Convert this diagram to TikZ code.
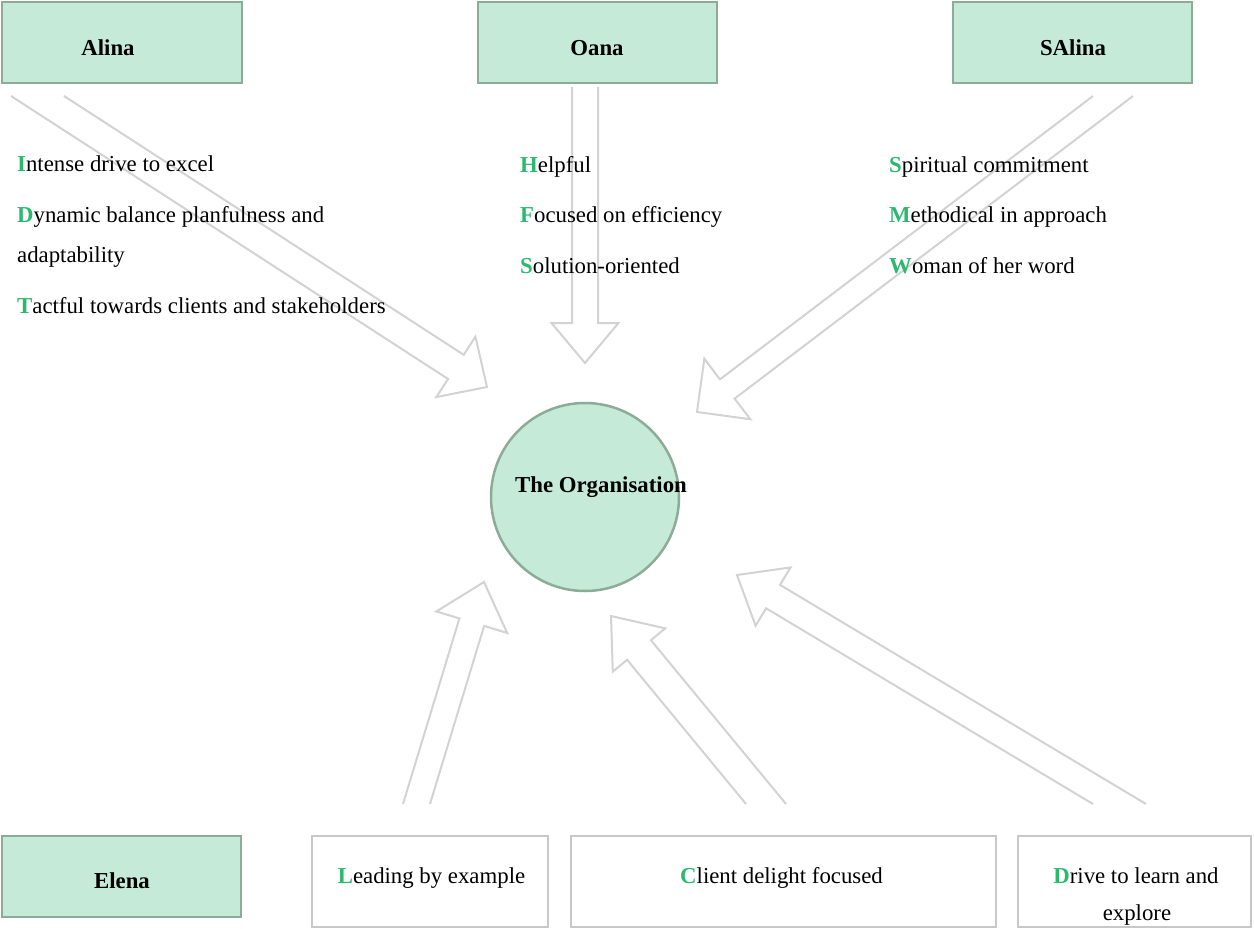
\documentclass[tikz,border=0pt]{standalone}
\usepackage{fontspec}
\setmainfont{Liberation Serif}
\usetikzlibrary{calc}
\definecolor{boxfill}{RGB}{197,234,215}
\definecolor{boxline}{RGB}{140,172,152}
\definecolor{arrgray}{RGB}{211,211,211}
\definecolor{wline}{RGB}{200,200,200}
\definecolor{lgreen}{RGB}{43,185,110}
\newcommand\gl[1]{\textbf{\color{lgreen}#1}}
% open block arrow: #1 tail point 1, #2 tail point 2, #3 tip, #4 head length, #5 head half width, #6 prefix
\newcommand\blkarrow[6]{%
  \coordinate (#6c) at ($(#1)!0.5!(#2)$);
  \coordinate (#6b) at ($(#3)!#4!(#6c)$);
  \coordinate (#6d1) at ($(#1)+(#3)-(#6c)$);
  \coordinate (#6d2) at ($(#2)+(#3)-(#6c)$);
  \coordinate (#6s1) at ($(#1)!(#6b)!(#6d1)$);
  \coordinate (#6s2) at ($(#2)!(#6b)!(#6d2)$);
  \coordinate (#6w1) at ($(#6b)!#5!(#6s1)$);
  \coordinate (#6w2) at ($(#6b)!#5!(#6s2)$);
  \draw[arrowline] (#1) -- (#6s1) -- (#6w1) -- (#3) -- (#6w2) -- (#6s2) -- (#2);
}
\begin{document}
\begin{tikzpicture}[x=1pt,y=-1pt,
  greenbox/.style={draw=boxline, fill=boxfill, line width=2.5pt, inner sep=0pt, minimum height=81pt},
  whitebox/.style={draw=wline, line width=1.2pt, inner sep=0pt, minimum height=91pt},
  orgcircle/.style={circle, draw=boxline, fill=boxfill, line width=2.5pt, inner sep=0pt, minimum size=188pt},
  namelbl/.style={font=\fontsize{22.8}{27}\selectfont\bfseries, anchor=base, inner sep=0pt},
  itemlbl/.style={font=\fontsize{22.8}{27}\selectfont, anchor=base west, inner sep=0pt},
  ctrlbl/.style={font=\fontsize{22.8}{27}\selectfont, anchor=base, inner sep=0pt},
  arrowline/.style={draw=arrgray, line width=2pt, line join=miter}
]
\useasboundingbox (0,0) rectangle (1254,929);
\fill[white] (0,0) rectangle (1254,929);

% arrow anchor coordinates
\coordinate (aT1) at (11,96);
\coordinate (aT2) at (64,96);
\coordinate (aP) at (487,387);
\coordinate (oT1) at (572,87);
\coordinate (oT2) at (598,87);
\coordinate (oP) at (585,363);
\coordinate (sT1) at (1093,96);
\coordinate (sT2) at (1133,96);
\coordinate (sP) at (697,412);
\coordinate (lT1) at (403,804);
\coordinate (lT2) at (430,804);
\coordinate (lP) at (484,582);
\coordinate (cT1) at (746,804);
\coordinate (cT2) at (786,804);
\coordinate (cP) at (611,616);
\coordinate (dT1) at (1093,804);
\coordinate (dT2) at (1146,804);
\coordinate (dP) at (737,575);

\blkarrow{aT1}{aT2}{aP}{37pt}{36pt}{arrA}
\blkarrow{oT1}{oT2}{oP}{40pt}{33.5pt}{arrO}
\blkarrow{sT1}{sT2}{sP}{38pt}{38pt}{arrS}
\blkarrow{lT1}{lT2}{lP}{42pt}{37pt}{arrL}
\blkarrow{cT1}{cT2}{cP}{44pt}{34pt}{arrC}
\blkarrow{dT1}{dT2}{dP}{42pt}{34pt}{arrD}

% top boxes
\node[greenbox, minimum width=240pt] (alina) at (122,42.5) {};
\node[greenbox, minimum width=239pt] (oana) at (597.5,42.5) {};
\node[greenbox, minimum width=239pt] (salina) at (1072.5,42.5) {};
\node[namelbl] (alinaT) at (108,55) {Alina};
\node[namelbl] (oanaT) at (597,55) {Oana};
\node[namelbl] (salinaT) at (1073,55) {SAlina};

% centre
\node[orgcircle] (org) at (585,497) {};
\node[namelbl] (orgT) at (601,492) {The Organisation};

% Alina items
\node[itemlbl] (a1) at (17,171) {\gl{I}ntense drive to excel};
\node[itemlbl] (a2) at (17,222) {\gl{D}ynamic balance planfulness and};
\node[itemlbl] (a2b) at (17,262) {adaptability};
\node[itemlbl] (a3) at (17,313) {\gl{T}actful towards clients and stakeholders};

% Oana items
\node[itemlbl] (o1) at (520,172) {\gl{H}elpful};
\node[itemlbl] (o2) at (520,222) {\gl{F}ocused on efficiency};
\node[itemlbl] (o3) at (520,273) {\gl{S}olution-oriented};

% SAlina items
\node[itemlbl] (s1) at (889,172) {\gl{S}piritual commitment};
\node[itemlbl] (s2) at (889,222) {\gl{M}ethodical in approach};
\node[itemlbl] (s3) at (889,273) {\gl{W}oman of her word};

% bottom row
\node[greenbox, minimum width=239pt] (elena) at (121.5,876.5) {};
\node[namelbl] (elenaT) at (122,888) {Elena};
\node[whitebox, minimum width=236pt] (leadbox) at (430,881.5) {};
\node[whitebox, minimum width=425pt] (clientbox) at (783.5,881.5) {};
\node[whitebox, minimum width=233pt] (drivebox) at (1134.5,881.5) {};
\node[ctrlbl] (leadT) at (431.5,883) {\gl{L}eading by example};
\node[ctrlbl] (clientT) at (781.5,883) {\gl{C}lient delight focused};
\node[ctrlbl] (driveT) at (1136,883) {\gl{D}rive to learn and};
\node[ctrlbl] (driveT2) at (1137,920) {explore};
\end{tikzpicture}
\end{document}
